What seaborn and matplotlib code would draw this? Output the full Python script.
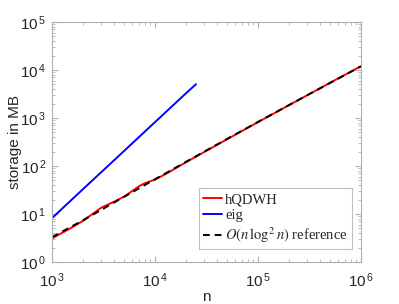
import math
import matplotlib
matplotlib.use("Agg")
import matplotlib.pyplot as plt
import matplotlib.ticker as mticker
import pandas as pd
import seaborn as sns

# values
n_hqdwh = [1e3, 1.5e3, 2e3, 3e3, 4e3, 5e3, 6e3, 7e3, 8e3, 1e4, 1.3e4,
           2e4, 5e4, 1e5, 2e5, 5e5, 1e6]
mb_hqdwh = [3.1, 5.0, 7.2, 13.5, 18.0, 23.0, 30.0, 38.0, 44.0, 52.0, 70.0,
            120.0, 360.0, 820.0, 1850.0, 5400.0, 12000.0]

n_eig = [1e3, 2e3, 5e3, 1e4, 2e4, 2.5e4]
mb_eig = [8.2, 33.0, 205.0, 820.0, 3280.0, 5050.0]

n_ref = [1e3, 2e3, 5e3, 1e4, 2e4, 5e4, 1e5, 2e5, 5e5, 1e6]
mb_ref = [3.3, 7.4, 22.7, 53.0, 122.0, 366.0, 828.0, 1860.0, 5370.0, 11900.0]

sns.set_style("ticks")
plt.rcParams["font.family"] = ["Liberation Sans", "DejaVu Sans"]
plt.rcParams["mathtext.fontset"] = "custom"
plt.rcParams["mathtext.rm"] = "Liberation Sans"
plt.rcParams["mathtext.it"] = "Liberation Sans:italic"

fig = plt.figure(figsize=(3.99, 3.04), dpi=100)
ax = fig.add_axes([52 / 399, 42 / 304, 309 / 399, 240 / 304])

df_h = pd.DataFrame({"n": n_hqdwh, "mb": mb_hqdwh})
df_e = pd.DataFrame({"n": n_eig, "mb": mb_eig})
df_r = pd.DataFrame({"n": n_ref, "mb": mb_ref})

sns.lineplot(data=df_h, x="n", y="mb", color="#ff0000", lw=1.4, ax=ax, label="hQDWH")
sns.lineplot(data=df_e, x="n", y="mb", color="#0000ff", lw=1.4, ax=ax, label="eig")
sns.lineplot(data=df_r, x="n", y="mb", color="black", lw=1.4, ax=ax,
             linestyle=(0, (3.5, 2.5)), label=r"$O(n\,\log^2 n)$ reference")

ax.set_xscale("log")
ax.set_yscale("log")
ax.set_xlim(1e3, 1e6)
ax.set_ylim(1e0, 1e5)

gray = "#b0b0b0"
for s in ax.spines.values():
    s.set_color(gray)
    s.set_linewidth(0.8)
ax.tick_params(which="both", direction="in", top=True, right=True, color=gray,
               labelsize=11, labelcolor="#262626")
ax.tick_params(axis="x", pad=7)
ax.tick_params(axis="y", pad=4)
ax.tick_params(which="major", length=4)
ax.tick_params(which="minor", length=2)
ax.xaxis.set_major_locator(mticker.LogLocator(base=10, numticks=10))
ax.yaxis.set_major_locator(mticker.LogLocator(base=10, numticks=10))
ax.xaxis.set_minor_locator(mticker.LogLocator(base=10, subs=range(2, 10), numticks=20))
ax.yaxis.set_minor_locator(mticker.LogLocator(base=10, subs=range(2, 10), numticks=20))
fmt = mticker.FuncFormatter(lambda v, p: r"$10^{\,%d}$" % round(math.log10(v)))
ax.xaxis.set_major_formatter(fmt)
ax.yaxis.set_major_formatter(fmt)
ax.xaxis.set_minor_formatter(mticker.NullFormatter())
ax.yaxis.set_minor_formatter(mticker.NullFormatter())

ax.set_xlabel("n", fontsize=11, color="#262626")
ax.xaxis.set_label_coords(0.5, -0.115)
ax.set_ylabel("storage in MB", fontsize=11, color="#262626")
ax.yaxis.set_label_coords(-0.098, 0.5)

leg = ax.legend(loc="lower right", bbox_to_anchor=(0.971, 0.054), frameon=True,
                fancybox=False, edgecolor=gray, handlelength=1.3, handletextpad=0.2,
                borderpad=0.3, labelspacing=0.2, borderaxespad=0.0,
                prop={"family": "Liberation Serif", "size": 10.5})
leg.get_frame().set_linewidth(0.8)
for t in leg.get_texts():
    t.set_math_fontfamily("stix")

fig.savefig("out.png", dpi=100)
